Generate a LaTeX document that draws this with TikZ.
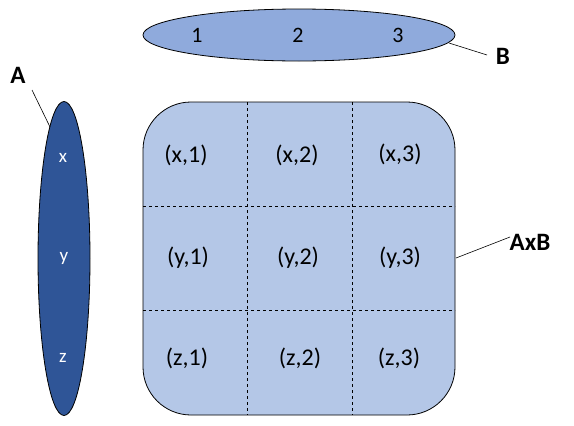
\documentclass[tikz,border=0pt]{standalone}
\usepackage{fontspec}
\setmainfont{Carlito}
\usetikzlibrary{shapes.geometric}
\definecolor{darkblue}{HTML}{2F5597}
\definecolor{midblue}{HTML}{8FAADC}
\definecolor{lightblue}{HTML}{B4C7E7}
\tikzset{
  setA/.style={ellipse, draw=black, line width=0.8pt, fill=darkblue, minimum width=52pt, minimum height=314pt, inner sep=0pt},
  setB/.style={ellipse, draw=black, line width=0.8pt, fill=midblue, minimum width=312pt, minimum height=52pt, inner sep=0pt},
  elemA/.style={text=white, font=\fontsize{19}{19}\selectfont},
  elemB/.style={text=black, font=\fontsize{22}{22}\selectfont},
  cell/.style={text=black, font=\fontsize{24}{24}\selectfont},
  lbl/.style={font=\bfseries\fontsize{25}{25}\selectfont},
  leader/.style={draw=black, line width=0.6pt},
  grid/.style={draw=black, dashed, line width=0.6pt}
}
\begin{document}
\begin{tikzpicture}[x=1pt,y=-1pt]
\useasboundingbox[fill=white] (0,0) rectangle (574,426);
% product rectangle
\draw[fill=lightblue, draw=black, line width=0.8pt, rounded corners=48pt] (143,102) rectangle (455,415);
\draw[grid] (247,102) -- (247,415);
\draw[grid] (352,102) -- (352,415);
\draw[grid] (143,206) -- (455,206);
\draw[grid] (143,310) -- (455,310);
% sets
\node[setA] (A) at (64,258.5) {};
\node[setB] (B) at (299,35) {};
\node[elemA] (ax) at (63,158) {x};
\node[elemA] (ay) at (64,258) {y};
\node[elemA] (az) at (63,358) {z};
\node[elemB] (b1) at (197,35) {1};
\node[elemB] (b2) at (298,35) {2};
\node[elemB] (b3) at (398,35) {3};
% cells
\node[cell] (x1) at (186,155) {(x,1)};
\node[cell] (x2) at (297,155) {(x,2)};
\node[cell] (x3) at (400,154) {(x,3)};
\node[cell] (y1) at (188,258) {(y,1)};
\node[cell] (y2) at (298,258) {(y,2)};
\node[cell] (y3) at (400,258) {(y,3)};
\node[cell] (z1) at (187,358) {(z,1)};
\node[cell] (z2) at (300,358) {(z,2)};
\node[cell] (z3) at (399,358) {(z,3)};
% labels
\node[lbl] (la) at (18,75) {A};
\node[lbl] (lb) at (503,56) {B};
\node[lbl] (lab) at (530,242) {AxB};
\coordinate (pa1) at (32,90);
\coordinate (pa2) at (50,127);
\coordinate (pb1) at (449,43);
\coordinate (pb2) at (487,55);
\coordinate (pc1) at (456,258);
\coordinate (pc2) at (510,237);
\draw[leader] (pa1) -- (pa2);
\draw[leader] (pb1) -- (pb2);
\draw[leader] (pc1) -- (pc2);
\end{tikzpicture}
\end{document}
